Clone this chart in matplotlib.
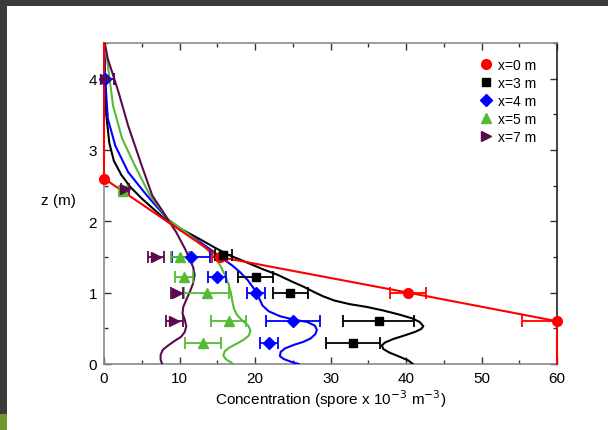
import numpy as np
import matplotlib
matplotlib.use("Agg")
import matplotlib.pyplot as plt
from matplotlib.patches import Rectangle
from matplotlib.ticker import MultipleLocator

plt.rcParams['font.family'] = ['Liberation Sans', 'DejaVu Sans']

# measured points (concentration, height, half error)
c0 = [0.0, 15.3, 40.3, 60.0]
z0 = [2.6, 1.5, 1.0, 0.6]
e0 = [0.0, 1.0, 2.4, 4.6]

c3 = [15.8, 20.1, 24.7, 36.4, 33.0]
z3 = [1.53, 1.22, 1.0, 0.6, 0.3]
e3 = [1.1, 2.3, 2.3, 4.7, 3.6]

c4 = [0.1, 11.5, 15.0, 20.1, 25.0, 21.9]
z4 = [4.0, 1.5, 1.22, 1.0, 0.6, 0.3]
e4 = [1.2, 2.5, 1.2, 1.2, 3.6, 1.2]

c5 = [2.5, 10.1, 10.6, 13.6, 16.5, 13.1]
z5 = [2.43, 1.5, 1.22, 1.0, 0.6, 0.3]
e5 = [0.5, 1.2, 1.2, 3.0, 2.3, 2.4]

c7 = [0.1, 2.8, 6.9, 9.7, 9.3]
z7 = [4.0, 2.45, 1.5, 1.0, 0.6]
e7 = [1.2, 0.5, 1.1, 0.8, 1.1]

# model profiles
red_c = [0.0, 0.0, 15.3, 40.3, 60.0, 60.0]
red_z = [4.5, 2.6, 1.5, 1.0, 0.6, 0.0]

blk_c = [0.05, 0.1, 0.3, 0.7, 1.3, 2.3, 3.5, 5.0, 6.8, 8.5, 10.6, 12.7, 14.7, 16.7, 19.0,
         21.0, 23.0, 24.8, 26.5, 27.8, 29.0, 30.5, 32.5, 34.8, 37.0, 39.2, 40.8, 41.8, 42.3,
         42.0, 41.2, 39.8, 38.3, 37.2, 36.8, 37.0, 37.8, 39.2, 40.3, 40.9]
blk_z = [4.5, 4.0, 3.5, 3.1, 2.85, 2.65, 2.48, 2.32, 2.15, 1.99, 1.87, 1.75, 1.63, 1.52, 1.42,
         1.33, 1.25, 1.16, 1.08, 1.01, 0.95, 0.89, 0.84, 0.8, 0.75, 0.69, 0.64, 0.59, 0.53,
         0.49, 0.45, 0.4, 0.35, 0.3, 0.26, 0.21, 0.16, 0.1, 0.05, 0.0]

blu_c = [0.05, 0.1, 0.5, 1.5, 3.2, 5.7, 8.7, 10.8, 12.7, 14.3, 15.8, 17.0, 18.0, 19.0, 19.7,
         20.2, 20.6, 21.0, 21.8, 23.3, 25.2, 26.9, 27.9, 28.2, 28.0, 27.4, 26.4, 25.2, 24.0,
         23.4, 23.3, 23.8, 24.8, 25.8]
blu_z = [4.5, 4.1, 3.44, 3.06, 2.69, 2.36, 2.0, 1.85, 1.71, 1.59, 1.47, 1.38, 1.29, 1.18, 1.08,
         1.0, 0.91, 0.82, 0.74, 0.67, 0.62, 0.59, 0.54, 0.48, 0.42, 0.36, 0.31, 0.27, 0.22,
         0.17, 0.11, 0.07, 0.03, 0.0]

grn_c = [0.05, 0.4, 1.2, 2.4, 4.1, 6.1, 8.5, 10.3, 12.0, 13.5, 14.6, 15.4, 16.0, 16.5, 16.8,
         17.0, 17.2, 17.6, 18.3, 19.1, 19.4, 19.2, 18.5, 17.5, 16.6, 16.0, 15.8, 16.1, 16.7, 17.1]
grn_z = [4.5, 4.28, 3.62, 3.16, 2.78, 2.36, 2.03, 1.89, 1.75, 1.62, 1.5, 1.38, 1.25, 1.12, 1.0,
         0.88, 0.78, 0.69, 0.61, 0.54, 0.47, 0.4, 0.34, 0.28, 0.23, 0.18, 0.12, 0.07, 0.03, 0.0]

pur_c = [0.1, 0.5, 1.9, 3.2, 5.0, 6.4, 7.6, 8.6, 9.5, 10.2, 10.8, 11.3, 11.8, 12.0, 11.8,
         11.4, 10.9, 10.5, 10.4, 10.7, 10.9, 10.7, 10.2, 9.3, 8.5, 7.8, 7.5, 7.5, 7.7]
pur_z = [4.5, 4.28, 3.82, 3.34, 2.78, 2.36, 2.17, 2.0, 1.86, 1.72, 1.6, 1.48, 1.36, 1.25, 1.13,
         1.02, 0.9, 0.8, 0.71, 0.62, 0.53, 0.45, 0.38, 0.32, 0.26, 0.2, 0.13, 0.06, 0.0]

RED = '#ff0000'
BLK = '#000000'
BLU = '#0000ff'
GRN = '#55bb33'
PUR = '#5c0a4e'

fig = plt.figure(figsize=(6.08, 4.31), dpi=100)
fig.patch.set_facecolor('white')
# dark frame of the screenshot
fig.patches.append(Rectangle((0, 1 - 7 / 431), 1, 7 / 431, transform=fig.transFigure,
                             facecolor='#3a3a3a', edgecolor='none', zorder=-1))
fig.patches.append(Rectangle((0, 0), 7 / 608, 1, transform=fig.transFigure,
                             facecolor='#3a3a3a', edgecolor='none', zorder=-1))
fig.patches.append(Rectangle((0, 0), 7 / 608, 16 / 431, transform=fig.transFigure,
                             facecolor='#6f9a2c', edgecolor='none', zorder=0))

ax = fig.add_axes([104 / 608, 1 - 365 / 431, 453 / 608, 321 / 431])

ax.plot(blk_c, blk_z, color=BLK, lw=1.5, zorder=3)
ax.plot(blu_c, blu_z, color=BLU, lw=1.5, zorder=3)
ax.plot(grn_c, grn_z, color=GRN, lw=1.5, zorder=3)
ax.plot(pur_c, pur_z, color=PUR, lw=1.5, zorder=3)
ax.plot(red_c, red_z, color=RED, lw=1.5, zorder=4, clip_on=False)

series = [
    (c0, z0, e0, RED, 'o', 7, 'x=0 m'),
    (c3, z3, e3, BLK, 's', 5.5, 'x=3 m'),
    (c4, z4, e4, BLU, 'D', 6, 'x=4 m'),
    (c5, z5, e5, GRN, '^', 7, 'x=5 m'),
    (c7, z7, e7, PUR, '>', 7, 'x=7 m'),
]
handles = []
for c, z, e, col, m, ms, lab in series:
    ax.errorbar(c, z, xerr=e, fmt='none', ecolor=col, elinewidth=1.3,
                capsize=4, capthick=1.3, zorder=5)
    h, = ax.plot(c, z, linestyle='none', marker=m, color=col, markersize=ms,
                 clip_on=False, zorder=6, label=lab)
    handles.append(h)

ax.legend(handles=handles, loc='upper left',
          bbox_to_anchor=(0.812, 0.97), frameon=False, fontsize=10,
          handletextpad=0.3, labelspacing=0.28, handlelength=1.2,
          borderaxespad=0)

ax.set_xlim(0, 60)
ax.set_ylim(0, 4.5)
ax.xaxis.set_major_locator(MultipleLocator(10))
ax.xaxis.set_minor_locator(MultipleLocator(5))
ax.yaxis.set_major_locator(MultipleLocator(1))
ax.yaxis.set_minor_locator(MultipleLocator(0.5))
ax.tick_params(which='both', direction='in', top=True, right=True,
               labelsize=11, colors='#333333', labelcolor='black')
ax.tick_params(which='major', length=5, width=1, pad=5)
ax.tick_params(which='minor', length=3, width=1)
for s in ['left', 'bottom', 'top']:
    ax.spines[s].set_color('#8a8a8a')
ax.spines['right'].set_color('#222222')
for s in ax.spines.values():
    s.set_linewidth(1.2)

ax.set_xlabel('Concentration (spore x 10$^{-3}$ m$^{-3}$)', fontsize=11, labelpad=2)
ax.set_ylabel('z (m)', fontsize=11, rotation=0, va='center', ha='center')
ax.yaxis.set_label_coords(-0.1, 0.51)

fig.savefig('out.png', dpi=100)
